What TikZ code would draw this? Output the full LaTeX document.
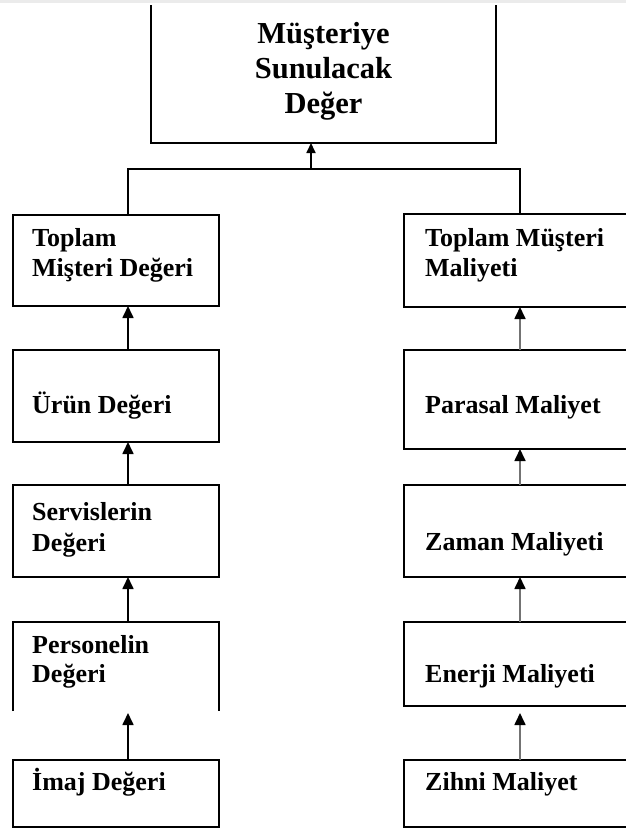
\documentclass[tikz,border=0pt]{standalone}
\usepackage{fontspec}
\setmainfont{Liberation Serif}
\usetikzlibrary{arrows.meta}
\begin{document}
\begin{tikzpicture}[x=1pt,y=-1pt,
  frame/.style={draw=black, line width=1.5pt, inner sep=0pt, outer sep=0pt},
  ghost/.style={inner sep=0pt, outer sep=0pt},
  txt/.style={inner sep=0pt, anchor=base west, font=\fontsize{26}{30}\selectfont\bfseries},
  toptxt/.style={inner sep=0pt, anchor=base, font=\fontsize{30.5}{35}\selectfont\bfseries},
  conn/.style={line width=1.7pt, draw=black},
  connR/.style={line width=1.7pt, draw=black!55},
  arr/.style={-{Triangle[length=12pt,width=11pt,color=black]}},
  arrs/.style={-{Triangle[length=10pt,width=9pt,color=black]}}]
\useasboundingbox (0,0) rectangle (626,830);
\fill[black!8] (0,0) rectangle (626,3);
% column lines
\coordinate (colL) at (128,0);
\coordinate (colR) at (520,0);
\coordinate (j) at (311,169);
% top box (open top)
\node[ghost, minimum width=345pt, minimum height=138pt] (top) at (323.5,74) {};
\draw[line width=1.5pt] (top.north west) -- (top.south west) -- (top.south east) -- (top.north east);
\node[toptxt] (toptext) at (323.5,43) {\parbox[t]{300pt}{\centering\setlength\baselineskip{35pt}Müşteriye\\Sunulacak\\Değer}};
% left column
\node[frame, minimum width=206pt, minimum height=91pt] (l1) at (116,260.5) {};
\node[frame, minimum width=206pt, minimum height=92pt] (l2) at (116,396) {};
\node[frame, minimum width=206pt, minimum height=92pt] (l3) at (116,531) {};
\node[ghost, minimum width=206pt, minimum height=89pt] (l4) at (116,666.5) {};
\draw[line width=1.5pt] (l4.south west) -- (l4.north west) -- (l4.north east) -- (l4.south east);
\node[frame, minimum width=206pt, minimum height=67pt] (l5) at (116,793.5) {};
% right column
\node[frame, minimum width=236pt, minimum height=93pt] (r1) at (522,260.5) {};
\node[frame, minimum width=236pt, minimum height=99pt] (r2) at (522,399.5) {};
\node[frame, minimum width=236pt, minimum height=92pt] (r3) at (522,531) {};
\node[frame, minimum width=236pt, minimum height=84pt] (r4) at (522,664) {};
\node[frame, minimum width=236pt, minimum height=67pt] (r5) at (522,793.5) {};
% texts left
\node[txt] (t1) at (32,246) {\parbox[t]{190pt}{\setlength\baselineskip{30pt}Toplam\\Mişteri Değeri}};
\node[txt] (t2) at (32,413) {Ürün Değeri};
\node[txt] (t3) at (32,520) {\parbox[t]{190pt}{\setlength\baselineskip{31pt}Servislerin\\Değeri}};
\node[txt] (t4) at (32,653) {\parbox[t]{190pt}{\setlength\baselineskip{29pt}Personelin\\Değeri}};
\node[txt] (t5) at (32,790) {İmaj Değeri};
% texts right
\node[txt] (s1) at (425,246) {\parbox[t]{200pt}{\setlength\baselineskip{30pt}Toplam Müşteri\\Maliyeti}};
\node[txt] (s2) at (425,413) {Parasal Maliyet};
\node[txt] (s3) at (425,550) {Zaman Maliyeti};
\node[txt] (s4) at (425,682) {Enerji Maliyeti};
\node[txt] (s5) at (425,790) {Zihni Maliyet};
% tree connectors
\draw[conn] (l1.north -| colL) |- (j) -| (r1.north -| colR);
\draw[conn, arrs] (j) -- (top.south -| j);
% left arrows
\draw[conn, arr] (l2.north -| colL) -- (l1.south -| colL);
\draw[conn, arr] (l3.north -| colL) -- (l2.south -| colL);
\draw[conn, arr] (l4.north -| colL) -- (l3.south -| colL);
\draw[conn, arr] (l5.north -| colL) -- ([yshift=-2pt]l4.south -| colL);
% right arrows
\draw[connR, arr] (r2.north -| colR) -- (r1.south -| colR);
\draw[connR, arr] (r3.north -| colR) -- (r2.south -| colR);
\draw[connR, arr] (r4.north -| colR) -- (r3.south -| colR);
\draw[connR, arr] (r5.north -| colR) -- ([yshift=-7pt]r4.south -| colR);
\end{tikzpicture}
\end{document}
